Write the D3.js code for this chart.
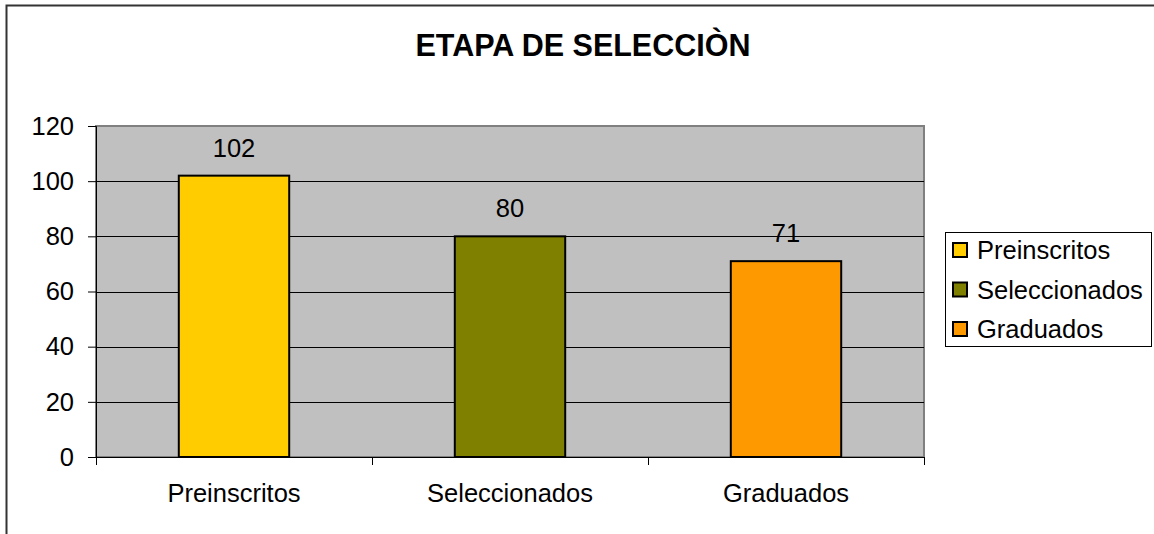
<!DOCTYPE html>
<html>
<head>
<meta charset="utf-8">
<script src="https://cdn.jsdelivr.net/npm/d3@7/dist/d3.min.js"></script>
<style>
  body { margin: 0; background: #fff; }
  svg { display: block; font-family: "Liberation Sans", Arial, sans-serif; }
</style>
</head>
<body>
<svg id="chart" width="1154" height="534"></svg>
<script>
const title = "ETAPA DE SELECCIÒN";
const categories = ["Preinscritos", "Seleccionados", "Graduados"];
const values = [102, 80, 71];
const colors = ["#FFCC00", "#808000", "#FF9900"];
const yTicks = [0, 20, 40, 60, 80, 100, 120];

const svg = d3.select("#chart");
const plot = { left: 96, top: 126, right: 924, bottom: 457 };
const fs = 25.5;

// outer chart frame
svg.append("rect")
  .attr("x", 6.5).attr("y", 5.5)
  .attr("width", 1300).attr("height", 700)
  .attr("fill", "#fff").attr("stroke", "#333").attr("stroke-width", 2);

// title
svg.append("text")
  .attr("x", 583).attr("y", 56)
  .attr("text-anchor", "middle")
  .attr("font-size", 30.5).attr("font-weight", "bold")
  .attr("fill", "#000")
  .text(title);

const x = d3.scaleBand().domain(categories)
  .range([plot.left, plot.right]).paddingInner(0.6).paddingOuter(0.3);
const xOuter = d3.scaleBand().domain(categories).range([plot.left, plot.right]);
const y = d3.scaleLinear().domain([0, 120]).range([plot.bottom, plot.top]);

// plot area
svg.append("rect")
  .attr("x", plot.left).attr("y", plot.top)
  .attr("width", plot.right - plot.left).attr("height", plot.bottom - plot.top)
  .attr("fill", "#C0C0C0").attr("stroke", "#808080").attr("stroke-width", 2);

// gridlines
svg.append("g").selectAll("line")
  .data(yTicks.filter(d => d > 0 && d < 120))
  .join("line")
  .attr("x1", plot.left).attr("x2", plot.right)
  .attr("y1", d => Math.round(y(d)) + 0.5).attr("y2", d => Math.round(y(d)) + 0.5)
  .attr("stroke", "#000").attr("stroke-width", 1);

// y axis
const yAxis = svg.append("g")
  .attr("transform", `translate(${plot.left},0)`)
  .call(d3.axisLeft(y).tickValues(yTicks).tickSize(8).tickPadding(14).tickFormat(d3.format("d")));
yAxis.select(".domain").attr("stroke", "#000").attr("stroke-width", 1);
yAxis.selectAll(".tick line").attr("stroke", "#000");
yAxis.selectAll("text").attr("font-size", fs).attr("fill", "#000")
  .attr("font-family", "'Liberation Sans', Arial, sans-serif");

// x axis
const xAxis = svg.append("g")
  .attr("transform", `translate(0,${plot.bottom})`)
  .call(d3.axisBottom(xOuter).tickSize(0).tickPadding(27));
xAxis.select(".domain").attr("stroke", "#000").attr("stroke-width", 1);
xAxis.selectAll("text").attr("font-size", fs).attr("fill", "#000")
  .attr("font-family", "'Liberation Sans', Arial, sans-serif");
// category boundary ticks
const bounds = categories.map(c => xOuter(c)).concat([plot.right]);
svg.append("g").selectAll("line").data(bounds).join("line")
  .attr("x1", d => Math.round(d) + 0.5).attr("x2", d => Math.round(d) + 0.5)
  .attr("y1", plot.bottom).attr("y2", plot.bottom + 8)
  .attr("stroke", "#000");

// bars
svg.append("g").selectAll("rect")
  .data(categories)
  .join("rect")
  .attr("x", d => x(d))
  .attr("y", (d, i) => y(values[i]))
  .attr("width", x.bandwidth())
  .attr("height", (d, i) => plot.bottom - y(values[i]))
  .attr("fill", (d, i) => colors[i])
  .attr("stroke", "#000").attr("stroke-width", 2);

// data labels
svg.append("g").selectAll("text")
  .data(categories)
  .join("text")
  .attr("x", d => x(d) + x.bandwidth() / 2)
  .attr("y", (d, i) => y(values[i]) - 19)
  .attr("text-anchor", "middle")
  .attr("font-size", fs).attr("fill", "#000")
  .text((d, i) => values[i]);

// legend
const legend = svg.append("g");
legend.append("rect")
  .attr("x", 945.5).attr("y", 232.5).attr("width", 206).attr("height", 114)
  .attr("fill", "#fff").attr("stroke", "#000").attr("stroke-width", 1);
const rows = legend.selectAll("g.row").data(categories).join("g")
  .attr("class", "row")
  .attr("transform", (d, i) => `translate(0,${250 + i * 39.5})`);
rows.append("rect")
  .attr("x", 953).attr("y", -7).attr("width", 14).attr("height", 14)
  .attr("fill", (d, i) => colors[i]).attr("stroke", "#000").attr("stroke-width", 2);
rows.append("text")
  .attr("x", 977).attr("y", 9)
  .attr("font-size", fs).attr("fill", "#000")
  .text(d => d);
</script>
</body>
</html>
